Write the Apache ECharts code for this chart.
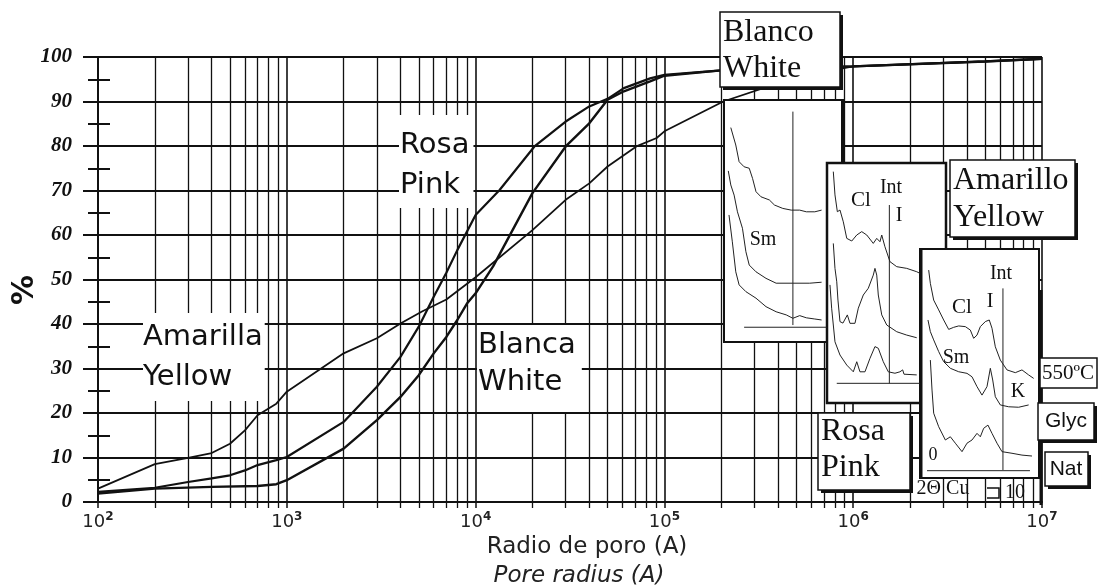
<!DOCTYPE html>
<html lang="es">
<head>
<meta charset="UTF-8">
<script src="https://cdn.jsdelivr.net/npm/echarts@6/dist/echarts.min.js"></script>
<style>
  html, body { margin: 0; padding: 0; background: #fff; }
  #main { width: 1098px; height: 587px; }
</style>
</head>
<body>
<div id="main"></div>
<script>
// radio de poro (A) / % acumulado
var radioAmarillo = [100, 200, 300, 400, 500, 600, 700, 880, 1000, 2000, 3000, 4000, 5200, 7000,
  10000, 20000, 30000, 40000, 50000, 71000, 91000, 100000, 205000, 500000, 1000000, 5000000, 10000000];
var pctAmarillo = [3.0, 8.5, 9.9, 11.0, 13.1, 16.1, 19.5, 22.1, 24.8, 33.4, 36.8, 40.1, 42.8, 45.5,
  50.5, 61.1, 67.9, 71.6, 75.4, 79.9, 81.8, 83.3, 90.0, 95.5, 97.9, 99.0, 99.6];

var radioRosa = [100, 200, 300, 400, 500, 600, 700, 880, 1000, 2000, 3000, 4000, 5000, 6000, 7000, 8000,
  10000, 13400, 20500, 30000, 40000, 50000, 61000, 84000, 100000, 200000, 1000000, 5000000, 10000000];
var pctRosa = [2.3, 3.2, 4.5, 5.3, 6.0, 7.1, 8.3, 9.4, 10.1, 18.0, 25.9, 32.6, 39.4, 46.1, 51.5, 56.6,
  64.5, 70.1, 79.9, 85.5, 88.9, 90.6, 93.0, 95.2, 96.0, 97.0, 97.9, 99.0, 99.6];

var radioBlanco = [100, 200, 400, 700, 880, 1000, 2000, 3000, 4000, 5000, 6000, 7000, 8000, 9000,
  10000, 12400, 20000, 30000, 40000, 50000, 61000, 84000, 100000, 200000, 1000000, 5000000, 10000000];
var pctBlanco = [1.9, 3.0, 3.4, 3.6, 4.0, 4.9, 12.0, 18.4, 23.6, 28.5, 33.4, 37.1, 40.9, 44.6,
  46.9, 53.0, 69.4, 79.9, 85.1, 90.4, 92.3, 94.5, 95.8, 97.0, 97.9, 99.0, 99.6];

// difractogramas (2theta relativo 0-100, intensidad relativa 0-100)
var drxBlanco1 = [[5.7,88.6],[9.9,81.4],[12.7,74.5],[16.9,72.4],[21.2,71.8],[24.0,67.6],[26.9,62.1],[31.1,60.0],
  [38.1,58.7],[42.4,56.6],[49.4,55.2],[56.5,54.5],[63.6,54.5],[69.2,53.8],[76.3,53.8],[82.0,54.5]];
var drxBlanco2 = [[3.6,70.7],[5.7,64.9],[8.5,60.7],[11.3,53.8],[15.5,47.0],[18.4,37.3],[21.2,31.8],[26.9,29.0],
  [35.3,26.3],[43.8,24.3],[57.9,24.3],[72.0,24.3],[82.0,24.7]];
var drxBlanco3 = [[4.2,52.5],[7.0,41.4],[9.9,29.0],[12.7,23.6],[18.4,20.8],[26.9,18.1],[35.3,14.6],[43.8,12.5],
  [52.3,11.2],[57.9,9.8],[63.6,10.9],[69.2,10.0],[76.3,9.5],[82.0,9.1]];
var refBlanco = [[[57.9,95.2],[57.9,7.0]], [[16.9,6.1],[86.2,6.1]]];

var drxRosa1 = [[5.3,96.4],[6.7,86.7],[8.7,79.7],[10.9,80.4],[13.7,75.5],[16.6,68.6],[20.8,67.5],[25.0,70.0],
  [29.2,71.4],[33.4,70.0],[38.9,66.5],[41.8,68.6],[44.5,67.2],[46.0,70.0],[48.7,65.1],[52.9,58.9],[58.6,56.8],
  [67.0,56.1],[75.4,54.7],[78.2,54.0]];
var drxRosa2 = [[5.3,66.5],[6.7,56.1],[8.2,50.5],[9.2,42.9],[10.9,33.9],[13.4,33.3],[17.1,36.7],[19.3,33.2],
  [23.5,33.2],[26.3,39.5],[30.5,45.0],[34.7,47.8],[38.9,53.3],[40.3,56.1],[41.8,53.3],[43.1,45.0],[46.0,36.7],
  [50.2,32.5],[58.6,29.7],[67.0,28.3],[75.4,27.2]];
var drxRosa3 = [[2.5,49.2],[3.9,39.5],[6.7,25.5],[10.9,20.0],[16.6,15.8],[22.1,13.0],[25.0,17.2],[27.7,13.0],
  [31.9,13.0],[36.1,18.6],[40.3,23.5],[43.1,22.8],[47.3,17.2],[51.5,13.0],[57.1,12.4],[61.3,13.0],[63.6,13.8],
  [64.7,12.0],[75.4,11.7]];
var refRosa = [[[52.4,82.5],[52.4,8.2]], [[8.2,8.2],[78.2,8.2]]];

var drxAmarillo1 = [[7.3,90.8],[8.7,85.0],[11.5,77.7],[15.7,73.4],[19.9,69.0],[24.1,64.9],[28.3,65.8],[32.5,66.4],
  [38.1,66.1],[42.3,64.6],[45.1,61.0],[47.9,62.4],[50.7,66.1],[54.9,68.3],[58.2,69.0],[60.5,65.4],[63.3,57.3],
  [67.5,51.5],[73.1,47.2],[80.1,46.0],[85.7,47.2],[91.3,45.0],[95.5,43.5]];
var drxAmarillo2 = [[6.7,69.0],[8.7,63.9],[11.5,60.3],[15.7,55.2],[19.9,50.8],[25.5,47.9],[32.5,46.4],[39.5,45.7],
  [43.7,44.2],[47.9,39.9],[52.1,36.2],[56.3,39.9],[59.1,47.9],[61.1,42.8],[63.3,35.5],[67.5,31.9],[74.5,31.1],
  [82.9,30.9],[91.3,31.9]];
var drxAmarillo3 = [[8.7,51.5],[10.1,38.4],[11.5,28.3],[15.7,22.4],[21.3,16.6],[25.5,18.0],[29.7,15.2],[35.3,11.5],
  [39.5,15.2],[43.7,16.6],[47.9,19.5],[50.7,18.0],[53.5,21.7],[57.1,23.1],[60.5,19.5],[64.7,15.2],[68.9,11.5],
  [77.3,10.8],[85.7,10.0],[94.1,9.6]];
var refAmarillo = [[[69.7,82.8],[69.7,3.5]], [[5.9,3.2],[92.4,3.2]]];

var INK = '#111';

function pares(xs, ys) {
  return xs.map(function (x, i) { return [x, ys[i]]; });
}

var chart = echarts.init(document.getElementById('main'));

// recuadros de los difractogramas
var recuadros = [
  { left: 724, top: 100, width: 119, height: 242, curvas: [drxBlanco1, drxBlanco2, drxBlanco3], refs: refBlanco },
  { left: 827, top: 163, width: 119, height: 240, curvas: [drxRosa1, drxRosa2, drxRosa3], refs: refRosa },
  { left: 920, top: 249, width: 119, height: 229, curvas: [drxAmarillo1, drxAmarillo2, drxAmarillo3], refs: refAmarillo }
];

var grids = [
  { left: 98, top: 57, width: 944, height: 445 },
  { left: 98, top: 57, width: 944, height: 445 }
];
var xAxes = [
  {
    gridIndex: 0, type: 'log', logBase: 10, min: 100, max: 10000000,
    axisLine: { lineStyle: { color: INK, width: 2 } },
    axisTick: { length: 6, lineStyle: { color: INK, width: 1.5 } },
    minorTick: { show: true, splitNumber: 9, length: 6, lineStyle: { color: INK, width: 1.3 } },
    splitLine: { show: true, lineStyle: { color: INK, width: 1.6 } },
    minorSplitLine: { show: true, lineStyle: { color: INK, width: 1.3 } },
    axisLabel: {
      margin: 9,
      formatter: function (v) {
        return '{b|10}{e|' + Math.round(Math.log(v) / Math.LN10) + '}';
      },
      rich: {
        b: { fontFamily: 'DejaVu Sans', fontSize: 18, color: '#222' },
        e: { fontFamily: 'DejaVu Sans', fontSize: 12, color: '#222', fontWeight: 'bold', padding: [0, 0, 10, 0] }
      }
    }
  },
  { gridIndex: 1, type: 'value', min: 0, max: 1, show: false }
];
var yAxes = [
  {
    gridIndex: 0, type: 'value', min: 0, max: 100, interval: 10,
    axisLine: { show: true, lineStyle: { color: INK, width: 2 } },
    axisTick: { show: true, length: 15, lineStyle: { color: INK, width: 2 } },
    minorTick: { show: true, splitNumber: 2, length: 10, lineStyle: { color: INK, width: 2 } },
    splitLine: { show: true, lineStyle: { color: INK, width: 2 } },
    axisLabel: { margin: 26, fontFamily: 'Liberation Serif', fontWeight: 'bold', fontStyle: 'italic', fontSize: 21, color: INK }
  },
  {
    // parte interior de las marcas de 5 %
    gridIndex: 1, type: 'value', min: 0, max: 100, interval: 10, position: 'left',
    axisLine: { show: false }, axisLabel: { show: false }, splitLine: { show: false },
    axisTick: { show: false, inside: true },
    minorTick: { show: true, splitNumber: 2, length: 12, lineStyle: { color: INK, width: 2 } }
  }
];

var series = [
  { name: 'Amarillo', data: pares(radioAmarillo, pctAmarillo), width: 1.8 },
  { name: 'Rosa', data: pares(radioRosa, pctRosa), width: 2.2 },
  { name: 'Blanco', data: pares(radioBlanco, pctBlanco), width: 2.4 }
].map(function (s) {
  return {
    name: s.name, type: 'line', xAxisIndex: 0, yAxisIndex: 0, data: s.data,
    symbol: 'none', silent: true, z: 2,
    lineStyle: { color: INK, width: s.width }
  };
});

recuadros.forEach(function (r, k) {
  var gi = grids.length;
  grids.push({ left: r.left, top: r.top, width: r.width, height: r.height });
  xAxes.push({ gridIndex: gi, type: 'value', min: 0, max: 100, show: false });
  yAxes.push({ gridIndex: gi, type: 'value', min: 0, max: 100, show: false });
  r.curvas.concat(r.refs).forEach(function (c) {
    series.push({
      type: 'line', xAxisIndex: gi, yAxisIndex: gi, data: c, symbol: 'none', silent: true, z: 10,
      lineStyle: { color: '#222', width: 1 }
    });
  });
});

function caja(x, y, w, h, sombra, ancho) {
  var out = [];
  if (sombra) {
    out.push({ type: 'rect', shape: { x: x + sombra, y: y + sombra, width: w, height: h }, style: { fill: INK }, z: 20 });
  }
  out.push({ type: 'rect', shape: { x: x, y: y, width: w, height: h }, style: { fill: '#fff', stroke: INK, lineWidth: ancho || 1.5 }, z: 21 });
  return out;
}
function texto(t, x, y, font, extra) {
  var st = { text: t, font: font, fill: INK, align: 'center', verticalAlign: 'middle' };
  for (var k in extra || {}) st[k] = extra[k];
  return { type: 'text', x: x, y: y, style: st, z: (extra && extra.z) || 22 };
}

var serif = '"Liberation Serif", "DejaVu Serif", serif';
var sans = '"DejaVu Sans", sans-serif';

var graphic = [
  // rotulos dentro del grafico
  { type: 'text', x: 143, y: 313, z: 1, style: { text: 'Amarilla\nYellow', font: '29px ' + sans, fill: INK, lineHeight: 40, backgroundColor: '#fff', padding: [4, 2, 4, 0] } },
  { type: 'text', x: 399, y: 115, z: 1, style: { text: 'Rosa\nPink', font: '29px ' + sans, fill: INK, lineHeight: 40, backgroundColor: '#fff', padding: [10, 4, 3, 1] } },
  { type: 'text', x: 477, y: 325, z: 1, style: { text: 'Blanca\nWhite', font: '29px ' + sans, fill: INK, lineHeight: 37, backgroundColor: '#fff', padding: [2, 6, 11, 1] } },

  // recuadros de difractogramas
  { type: 'rect', shape: { x: 724, y: 100, width: 119, height: 242 }, style: { fill: '#fff', stroke: INK, lineWidth: 2 }, z: 5 },
  { type: 'line', shape: { x1: 843, y1: 100, x2: 843, y2: 165 }, style: { stroke: INK, lineWidth: 4 }, z: 5 },
  { type: 'rect', shape: { x: 827, y: 163, width: 119, height: 240 }, style: { fill: '#fff', stroke: INK, lineWidth: 2.5 }, z: 6 },
  { type: 'rect', shape: { x: 920, y: 249, width: 119, height: 229 }, style: { fill: '#fff', stroke: INK, lineWidth: 2 }, z: 7 },
  { type: 'line', shape: { x1: 921, y1: 249, x2: 921, y2: 478 }, style: { stroke: INK, lineWidth: 3 }, z: 7 },
  { type: 'line', shape: { x1: 1041, y1: 290, x2: 1041, y2: 505 }, style: { stroke: INK, lineWidth: 3 }, z: 7 },

  texto('Sm', 763, 240, '20px ' + serif, { z: 11 }),
  texto('Cl', 861, 200, '21px ' + serif, { z: 11 }),
  texto('Int', 891, 188, '20px ' + serif, { z: 11 }),
  texto('I', 899, 216, '20px ' + serif, { z: 11 }),
  texto('Int', 1001, 274, '20px ' + serif, { z: 11 }),
  texto('Cl', 962, 307, '21px ' + serif, { z: 11 }),
  texto('I', 990, 302, '20px ' + serif, { z: 11 }),
  texto('Sm', 956, 358, '20px ' + serif, { z: 11 }),
  texto('K', 1018, 392, '20px ' + serif, { z: 11 }),
  texto('0', 933, 455, '18px ' + serif, { z: 11 }),
  texto('2\u0398 Cu', 943, 489, '20px ' + serif, { z: 11 }),
  texto('10', 1015, 493, '20px ' + serif, { z: 11 }),
  { type: 'polyline', shape: { points: [[987, 488], [999, 488], [999, 498], [987, 498]] }, style: { stroke: INK, lineWidth: 1.5, fill: null }, z: 11 },

  // ejes
  { type: 'text', x: 25, y: 290, rotation: Math.PI / 2, z: 22, style: { text: '%', font: 'bold 30px ' + sans, fill: INK, align: 'center', verticalAlign: 'middle' } },
  texto('Radio de poro (A)', 587, 547, '23px ' + sans, { fill: '#222' }),
  texto('Pore radius (A)', 579, 576, 'italic 23px ' + sans, { fill: '#222' })
];

graphic = graphic
  .concat(caja(720, 12, 120, 75, 3))
  .concat([{ type: 'text', x: 723, y: 15, z: 22, style: { text: 'Blanco\nWhite', font: '32px ' + serif, fill: INK, lineHeight: 36 } }])
  .concat(caja(950, 160, 125, 77, 3))
  .concat([{ type: 'text', x: 953, y: 162, z: 22, style: { text: 'Amarillo\nYellow', font: '32px ' + serif, fill: INK, lineHeight: 37 } }])
  .concat(caja(818, 413, 92, 77, 3))
  .concat([{ type: 'text', x: 821, y: 413, z: 22, style: { text: 'Rosa\nPink', font: '32px ' + serif, fill: INK, lineHeight: 36.5 } }])
  .concat(caja(1040, 358, 57, 30, 0))
  .concat([texto('550\u00baC', 1068, 373, '21px ' + serif)])
  .concat(caja(1038, 403, 56, 37, 3))
  .concat([texto('Glyc', 1066, 421, '21px "Liberation Sans", sans-serif')])
  .concat(caja(1045, 452, 43, 34, 3))
  .concat([texto('Nat', 1066, 469, '21px "Liberation Sans", sans-serif')]);

chart.setOption({
  animation: false,
  backgroundColor: '#fff',
  grid: grids,
  xAxis: xAxes,
  yAxis: yAxes,
  series: series,
  graphic: graphic
});
</script>
</body>
</html>
